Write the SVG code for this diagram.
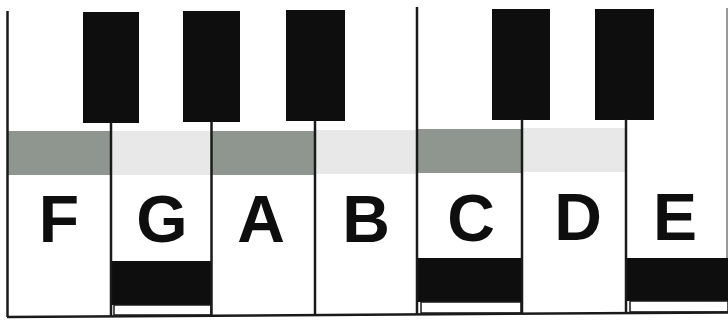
<svg xmlns="http://www.w3.org/2000/svg" width="728" height="320" viewBox="0 0 728 320">
  <style>
    .blk { fill: #0e0e0e; }
    .dark { fill: #8e968f; }
    .light { fill: #e7e8e7; }
    .ln { stroke: #1a1a1a; stroke-width: 2.5; fill: none; }
    .lip { fill: #ffffff; stroke: #1a1a1a; stroke-width: 1.5; }
    .lbl { font-family: "Liberation Sans", Arial, sans-serif; font-weight: bold; font-size: 66px; fill: #0e0e0e; text-anchor: middle; }
  </style>
  <rect width="728" height="320" fill="#ffffff"/>

  <g id="key-F">
    <rect class="dark" x="8" y="131" width="103" height="44"/>
    <text class="lbl" x="59" y="242">F</text>
  </g>
  <g id="key-G">
    <rect class="light" x="111" y="131" width="100" height="44"/>
    <text class="lbl" x="162" y="242">G</text>
    <rect class="blk" x="111" y="261" width="100" height="44"/>
    <rect class="lip" x="114" y="305" width="97" height="10"/>
  </g>
  <g id="key-A">
    <rect class="dark" x="211" y="131" width="104" height="44"/>
    <text class="lbl" x="261" y="242">A</text>
  </g>
  <g id="key-B">
    <rect class="light" x="315" y="130" width="102" height="44"/>
    <text class="lbl" x="366" y="242">B</text>
  </g>
  <g id="key-C">
    <rect class="dark" x="417" y="129" width="105" height="44"/>
    <text class="lbl" x="471" y="241">C</text>
    <rect class="blk" x="418" y="258" width="104" height="44"/>
    <rect class="lip" x="421" y="302" width="100" height="11"/>
  </g>
  <g id="key-D">
    <rect class="light" x="522" y="128" width="104" height="44"/>
    <text class="lbl" x="578" y="240">D</text>
  </g>
  <g id="key-E">
    <text class="lbl" x="675" y="240">E</text>
    <rect class="blk" x="627" y="258" width="101" height="43"/>
    <rect class="lip" x="630" y="301" width="98" height="11"/>
  </g>

  <g id="black-keys">
    <rect class="blk" x="83" y="12" width="56" height="111"/>
    <rect class="blk" x="183" y="11" width="57" height="111"/>
    <rect class="blk" x="286" y="10" width="59" height="111"/>
    <rect class="blk" x="492" y="9" width="58" height="111"/>
    <rect class="blk" x="595" y="9" width="59" height="111"/>
  </g>

  <g id="lines">
    <line class="ln" x1="7.5" y1="11" x2="7.5" y2="317"/>
    <line class="ln" x1="111" y1="122" x2="111" y2="317"/>
    <line class="ln" x1="211.5" y1="121" x2="211.5" y2="316"/>
    <line class="ln" x1="315" y1="120" x2="315" y2="315"/>
    <line class="ln" x1="417" y1="7" x2="417" y2="314"/>
    <line class="ln" x1="522" y1="119" x2="522" y2="313"/>
    <line class="ln" x1="626" y1="119" x2="626" y2="313"/>
    <line x1="727" y1="8" x2="727" y2="258" stroke="#555555" stroke-width="1.2"/>
    <line class="ln" x1="7" y1="317" x2="728" y2="312.5"/>
  </g>
</svg>
